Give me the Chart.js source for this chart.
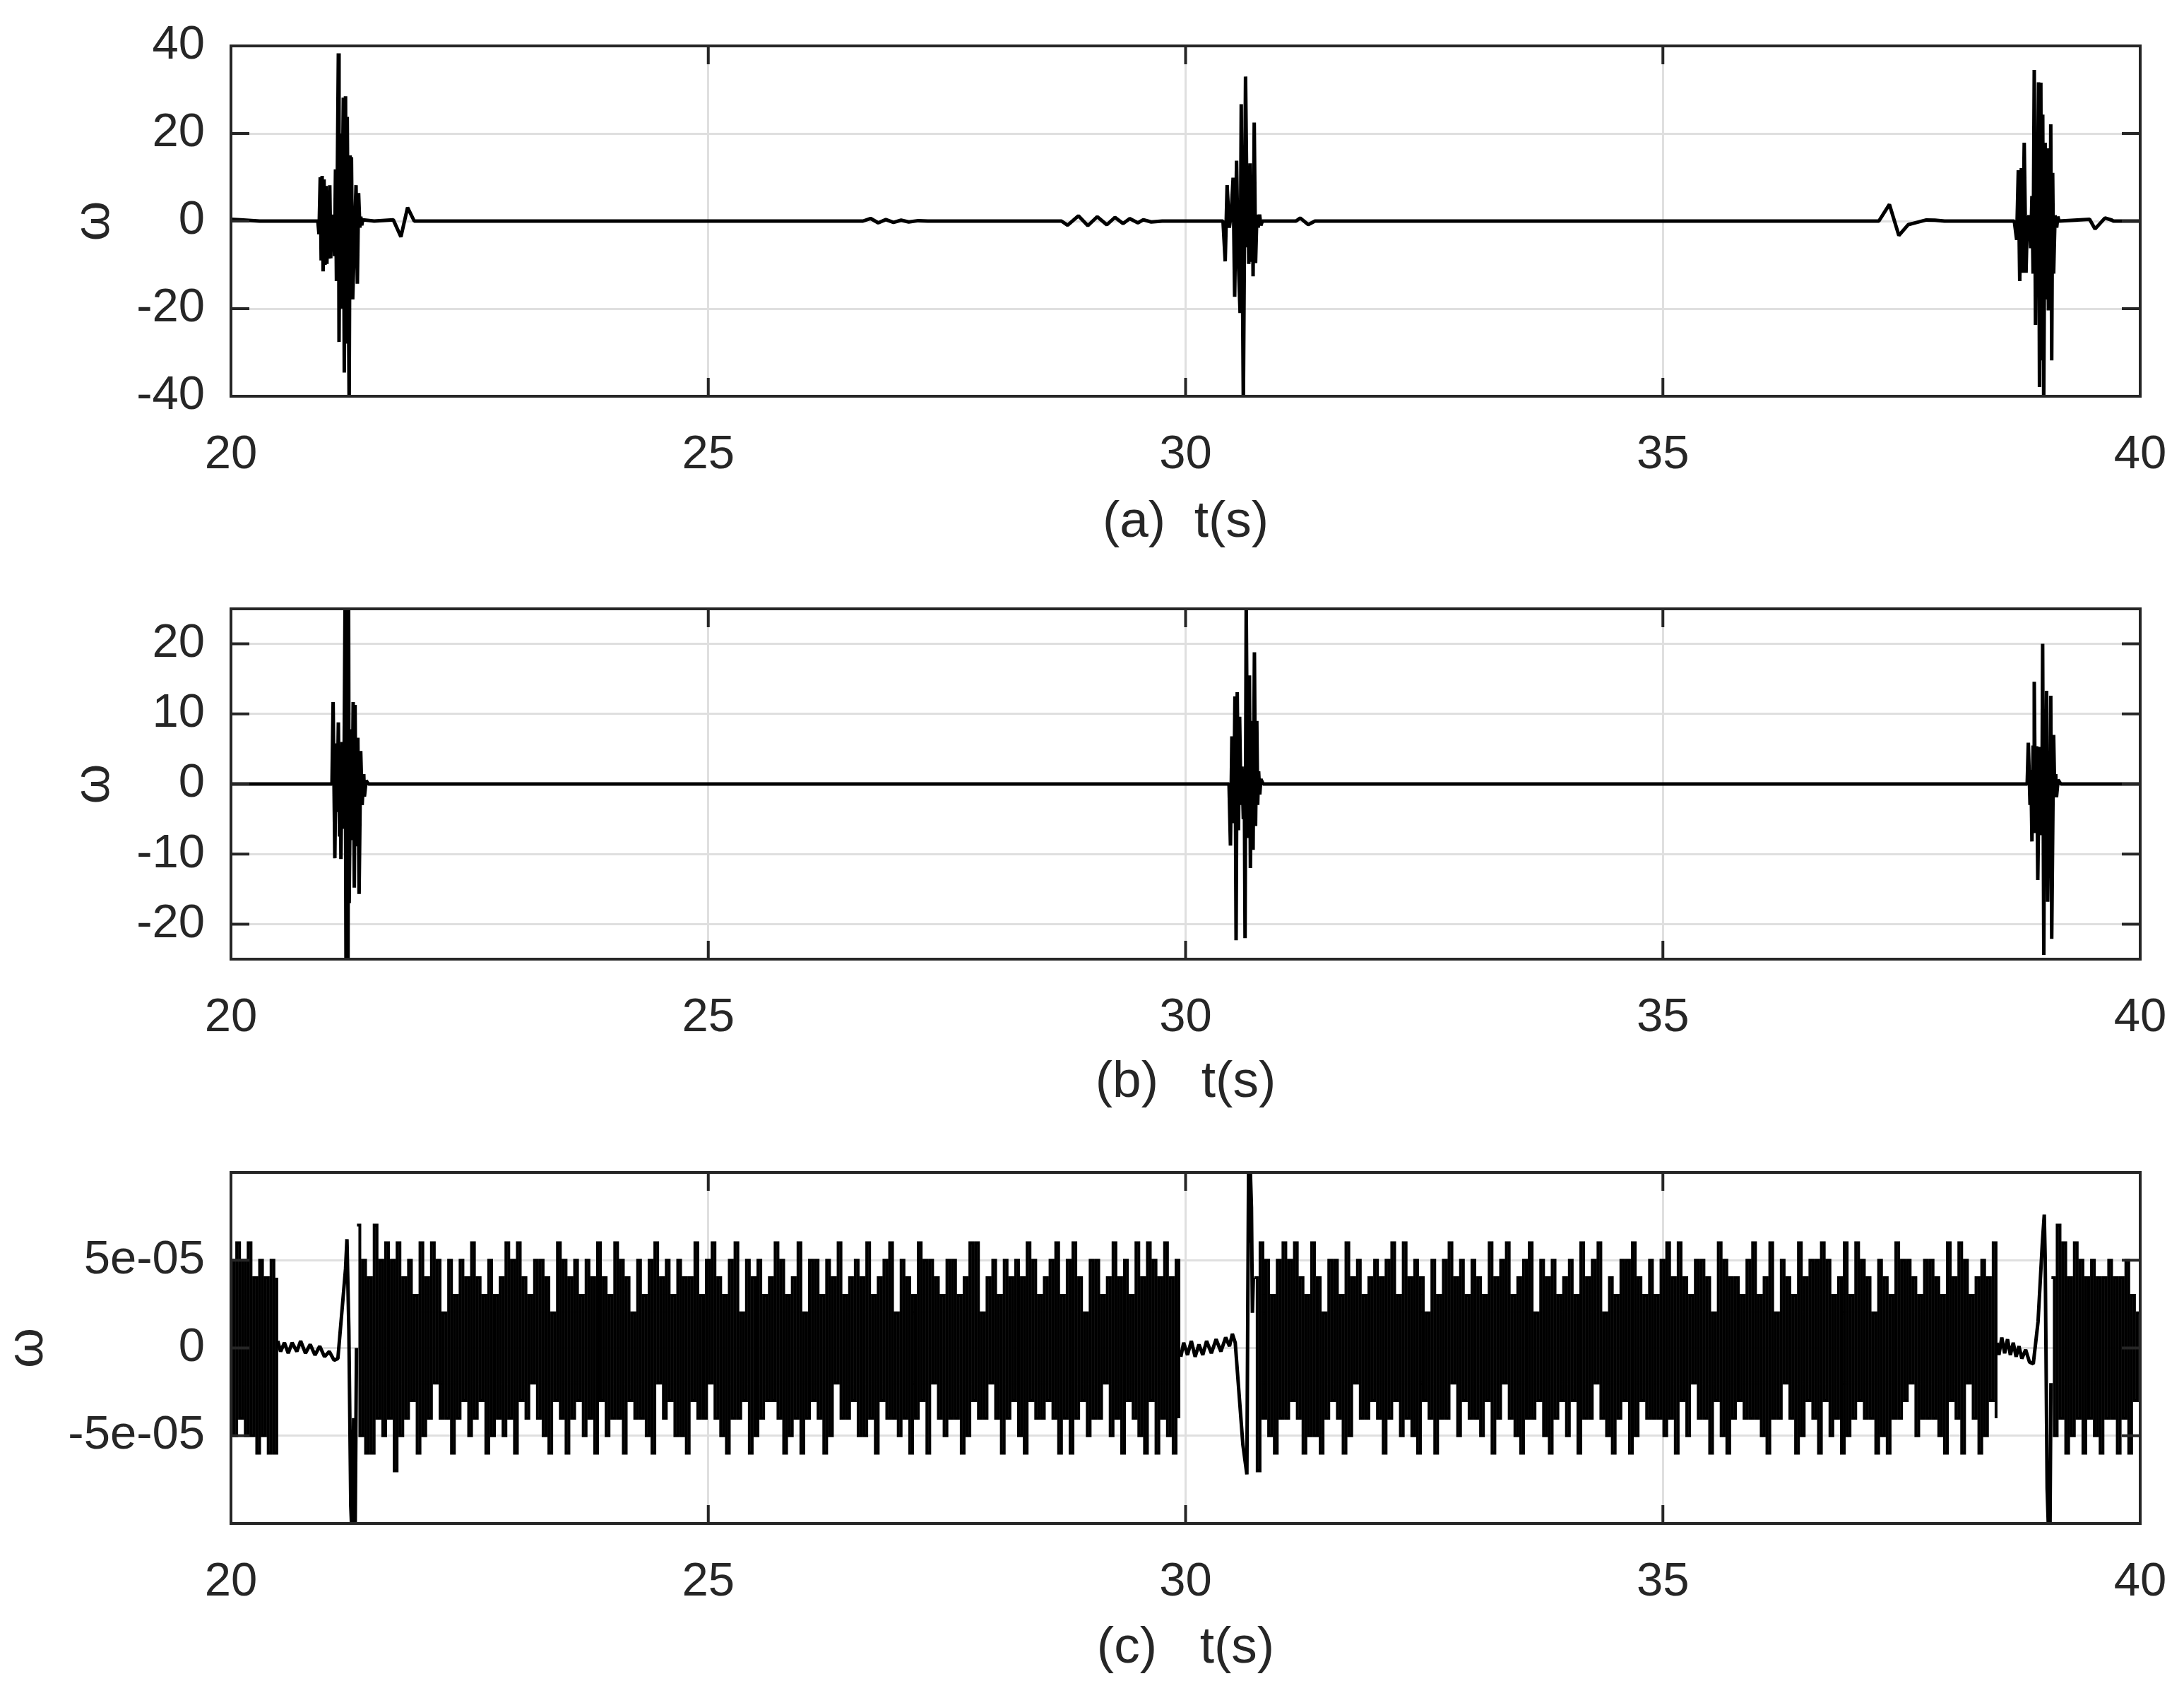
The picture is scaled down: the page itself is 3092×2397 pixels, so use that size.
<!DOCTYPE html>
<html>
<head>
<meta charset="utf-8">
<script src="https://cdn.jsdelivr.net/npm/chart.js@4.4.1/dist/chart.umd.min.js"></script>
<style>
  body { margin: 0; background: #fff; }
  #wrap { position: relative; width: 3092px; height: 2397px; }
  canvas { position: absolute; left: 0; }
</style>
</head>
<body>
<div id="wrap">
  <canvas id="plotA" width="3092" height="800" style="top:0px"></canvas>
  <canvas id="plotB" width="3092" height="800" style="top:800px"></canvas>
  <canvas id="plotC" width="3092" height="797" style="top:1600px"></canvas>
</div>
<script>
// ---- axes ----
const xTicks = [20, 25, 30, 35, 40];
const xLabels = ['20', '25', '30', '35', '40'];
const yTicksA = [-40, -20, 0, 20, 40];
const yLabelsA = ['-40', '-20', '0', '20', '40'];
const yTicksB = [-20, -10, 0, 10, 20];
const yLabelsB = ['-20', '-10', '0', '10', '20'];
const yTicksC = [-5e-5, 0, 5e-5];
const yLabelsC = ['-5e-05', '0', '5e-05'];
const xTitles = ['(a)  t(s)', '(b)   t(s)', '(c)   t(s)'];

// ---- (a) omega ----
const tA = [20.00,20.10,20.30,20.90,
  20.91,20.922,20.935,20.945,20.955,20.965,20.975,20.985,20.996,21.005,
  21.015,21.025,21.035,21.045,21.055,21.065,21.075,21.085,21.095,21.105,
  21.125,21.132,21.145,21.155,21.177,21.187,21.20,21.21,21.218,21.238,
  21.248,21.255,21.262,21.275,21.31,21.324,21.337,21.35,21.36,21.37,
  21.38,21.50,
  21.70,21.78,21.85,21.92,
  26.62,26.70,26.78,26.86,26.94,27.02,27.10,27.20,27.30,
  28.70,28.764,28.877,28.976,29.075,29.175,29.26,29.345,29.415,29.50,29.557,29.64,29.755,
  30.392,30.415,30.435,30.458,30.478,30.498,30.514,30.534,30.548,30.571,
  30.583,30.605,30.628,30.648,30.655,30.662,30.676,30.690,30.70,30.707,
  30.719,30.733,30.747,30.761,30.775,30.789,30.804,
  31.157,31.20,31.285,31.355,
  37.262,37.373,37.472,37.571,37.66,37.76,37.85,37.95,
  38.681,38.706,38.723,38.738,38.755,38.767,38.785,38.804,38.817,38.836,
  38.853,38.866,38.878,38.890,38.903,38.912,38.920,38.935,38.945,38.959,
  38.969,38.979,38.989,39.004,39.014,39.026,39.039,39.054,39.058,39.063,
  39.073,39.083,39.093,39.108,39.125,39.137,39.150,
  39.470,39.527,39.631,39.705,39.72,40.00];
const wA = [0.4,0.3,0,0,
  0,-3,10,-9,10.3,-11.5,9.5,-10,8,-9.8,
  7,-8.6,8.2,-8.5,1.5,-6,1.2,-8,11.8,-13.7,
  38.3,-27.6,20,-20,28.2,-34.6,28.5,-28,23.8,-42,
  15,-17,14.6,-17.9,8.2,-14.3,6.4,-1.5,1.0,-1.0,
  0.3,0,
  0.3,-3.6,3.1,0,
  0,0.6,-0.4,0.35,-0.3,0.2,-0.2,0.1,0,
  0,-0.95,1.2,-1.05,1.0,-0.85,0.85,-0.55,0.55,-0.4,0.3,-0.2,0,
  0,-9.2,8.2,-1.5,1.8,9.9,-17.3,13.8,-6,-21,
  26.7,-42,33,-6,5,-9.8,13.2,-9.3,8,-12.6,
  22.5,-9.6,1.5,-1.5,1.5,-1.0,0,
  0,0.7,-0.8,0,
  0,3.8,-3.3,-0.8,-0.3,0.25,0.2,0,
  0,-4.3,11.6,-13.7,12.1,-11.8,17.9,-11.8,0,1.3,
  -6.2,5.7,-12,34.5,-23.7,6.3,-5,31.7,-37.9,31.6,
  -31.8,24.3,-42,17.9,-17.9,16.6,-20.4,14.9,-8,22.1,
  -31.8,11,-12,1.3,-1.5,1,0,
  0.4,-1.8,0.7,0.2,0,0];

// ---- (b) omega ----
const tB = [20.00,
  21.058,21.070,21.088,21.100,21.112,21.125,21.137,21.145,21.152,21.165,
  21.181,21.195,21.205,21.215,21.226,21.232,21.238,21.255,21.268,21.280,
  21.292,21.300,21.310,21.329,21.342,21.359,21.374,21.391,21.398,21.416,
  21.44,
  30.455,30.470,30.485,30.504,30.517,30.529,30.541,30.554,30.566,30.580,
  30.591,30.605,30.615,30.623,30.635,30.652,30.669,30.679,30.694,30.707,
  30.721,30.733,30.746,30.755,30.765,30.777,30.789,30.813,
  38.816,38.828,38.846,38.855,38.866,38.878,38.884,38.890,38.903,38.915,
  38.927,38.945,38.952,38.960,38.970,38.978,38.990,39.000,39.010,39.019,
  39.031,39.045,39.055,39.063,39.073,39.093,39.105,39.115,39.123,39.14,
  39.168,40.00];
const wB = [0,
  0,11.7,-10.6,5.8,-4,8.8,-7.5,4,-10.7,6,
  -6.4,26,-26,26,-26,26,-17,7.8,-8,11.7,
  -14.8,11.3,-8.9,6.6,-15.7,4.7,-3,1.4,-1.8,0.5,
  0,
  0,-8.8,6.8,-5.6,12.5,-22.3,13.1,-6.6,9.6,-3,
  2.5,-5,1,-22,26,-7.7,15.5,-12,9,-9.4,
  18.8,-6,9,-3,1.8,-1.5,0.7,0,
  0,5.9,-3,2,-8.2,5.5,-2,14.6,-7,5.4,
  -13.7,5.3,-7.3,2,-5,20,-24.4,9,-4,13.3,
  -16.8,4.6,-6,12.6,-22.1,7,-1.5,1.4,-1.9,0.6,
  0,0];

// ---- (c) omega, in units of 1e-5 ----
// quiet stretches and switching transients
const tC = [20.49,20.52,20.56,20.60,20.64,20.69,20.73,20.78,20.83,20.88,20.93,20.98,21.03,21.08,21.12,
  21.20,21.215,21.235,21.255,21.27,21.285,21.30,21.315, 21.316,
  29.95,29.98,30.02,30.06,30.10,30.14,30.18,30.22,30.27,30.32,30.37,30.42,30.46,30.49,30.52,
  30.60,30.642,30.66,30.668,30.676,30.69,30.70,30.71, 30.711,
  38.50,38.52,38.55,38.58,38.61,38.64,38.67,38.70,38.73,38.76,38.80,38.84,38.88,
  38.93,38.975,38.995,39.005,39.025,39.04,39.055,39.065];
const wC = [0.4,-0.2,0.3,-0.3,0.3,-0.2,0.4,-0.3,0.2,-0.4,0.1,-0.5,-0.2,-0.7,-0.6,
  4.5,6.2,1,-9,-11,-4,-11,0, null,
  -0.5,0.3,-0.4,0.4,-0.5,0.2,-0.4,0.4,-0.3,0.5,-0.2,0.6,0.1,0.8,0.3,
  -5.5,-7.2,10.5,6,10.5,8,2,4, null,
  0.3,-0.4,0.6,-0.3,0.5,-0.4,0.3,-0.5,0.1,-0.6,-0.1,-0.8,-0.9,
  1.5,6,7.6,5,-8,-10.5,-10.5,-2];

// quantised chatter, one sample every noiseStep seconds from each start time
const noiseStart = [20.00, 21.32, 30.72, 39.07];
const noiseStep = 0.03;
const noise1 = [5,-5,6,-4,5,-5,6,-5,4,-6,5,-5,4,-6,5,-6,4];
const noise2 = [7,-5,5,-6,4,-6,7,-4,5,-5,6,-4,5,-7,6,-5,
  4,-4,5,-3,3,-6,6,-5,4,-4,6,-2,5,-4,2,-4,5,-6,3,-4,5,-3,4,-5,6,-4,4,-3,3,-6,5,-5,
  3,-4,4,-5,6,-4,5,-6,6,-3,4,-4,3,-2,5,-4,5,-5,4,-6,2,-3,6,-4,5,-6,4,-4,5,-3,3,-5,
  5,-4,4,-6,6,-3,4,-5,3,-4,6,-4,5,-6,4,-3,2,-4,5,-4,3,-5,5,-6,6,-2,4,-4,5,-3,3,-5,
  5,-5,4,-6,4,-3,6,-4,3,-4,5,-2,6,-4,4,-5,3,-6,5,-4,6,-4,2,-3,5,-6,4,-5,5,-4,3,-3,
  4,-3,6,-4,5,-6,3,-5,4,-4,6,-6,2,-4,5,-3,5,-4,3,-6,5,-5,4,-2,6,-4,3,-4,4,-3,5,-5,
  4,-5,6,-4,3,-6,4,-3,5,-4,6,-4,2,-5,5,-4,4,-6,3,-4,6,-3,5,-6,5,-2,4,-4,3,-5,5,-4,
  5,-4,3,-6,4,-5,6,-3,6,-4,2,-4,4,-2,5,-4,3,-6,5,-4,4,-3,5,-5,4,-6,6,-3,5,-4,3,-4,
  4,-3,5,-4,6,-6,3,-4,5,-6,6,-4,4,-3,2,-5,5,-4,5,-4,3,-2,4,-5,6,-4,4,-6,5,-3,3,-4,
  6,-5,4,-6,6,-3,5,-6,4,-4,6,-5,4,-6,5,-4];
const noise3 = [4,-7,6,-4,5,-5,3,-6,5,-4,6,-4,
  5,-3,6,-4,4,-6,3,-5,6,-5,4,-6,2,-4,5,-3,5,-4,3,-6,6,-5,4,-2,5,-4,3,-4,4,-3,5,-4,
  4,-6,5,-4,6,-3,3,-5,6,-4,4,-5,5,-6,4,-3,2,-4,5,-6,3,-4,5,-4,6,-2,4,-5,5,-3,3,-4,
  5,-4,4,-5,3,-3,6,-6,4,-4,5,-2,6,-4,3,-5,4,-6,5,-4,6,-4,2,-3,5,-5,4,-6,5,-4,3,-3,
  4,-5,5,-3,3,-6,6,-4,4,-4,5,-2,6,-4,2,-5,4,-6,3,-4,5,-3,5,-6,6,-5,4,-3,3,-4,5,-4,
  3,-4,5,-5,6,-4,4,-6,6,-3,4,-5,3,-2,5,-4,5,-4,4,-6,2,-3,6,-5,5,-6,4,-4,4,-3,3,-4,
  5,-4,6,-4,3,-5,4,-6,6,-4,2,-4,5,-2,4,-4,3,-6,6,-5,4,-3,5,-4,5,-6,6,-3,5,-5,3,-4,
  4,-6,6,-5,3,-4,6,-3,5,-4,4,-4,2,-6,5,-5,4,-6,3,-4,6,-4,5,-3,5,-2,4,-5,3,-4,5,-4,
  5,-4,4,-5,3,-6,6,-3,4,-4,6,-6,5,-2,3,-4,4,-6,5,-5,4,-3,6,-4];
const noise4 = [4,-5,7,-4,6,-6,4,-5,6,-4,5,-6,4,-4,5,-5,4,-6,4,-4,5,-4,4,-6,4,-4,5,-6,3,-3,2,-2];

// ---- drawing ----
const INK = '#262626';
const GRID = '#dfdfdf';
const FONT = 'Liberation Sans';

function series(times, values, unit) {
  return times.map((t, i) => ({ x: t, y: values[i] === null ? null : values[i] * unit }));
}

function noiseSeries(starts, step, segments, unit) {
  const pts = [];
  segments.forEach((seg, s) => {
    seg.forEach((v, i) => pts.push({ x: starts[s] + i * step, y: v * unit }));
    pts.push({ x: starts[s] + seg.length * step, y: null });
  });
  return pts;
}

// box round the plot area with inward tick marks
const frame = {
  id: 'frame',
  afterDraw(chart) {
    const { ctx, chartArea: a } = chart;
    const xs = chart.scales.x, ys = chart.scales.y;
    const len = 26;
    ctx.save();
    ctx.strokeStyle = INK;
    ctx.lineWidth = 4;
    ctx.beginPath();
    xs.ticks.forEach(t => {
      const px = xs.getPixelForValue(t.value);
      ctx.moveTo(px, a.bottom); ctx.lineTo(px, a.bottom - len);
      ctx.moveTo(px, a.top); ctx.lineTo(px, a.top + len);
    });
    ys.ticks.forEach(t => {
      const py = ys.getPixelForValue(t.value);
      ctx.moveTo(a.left, py); ctx.lineTo(a.left + len, py);
      ctx.moveTo(a.right, py); ctx.lineTo(a.right - len, py);
    });
    ctx.stroke();
    ctx.strokeRect(a.left, a.top, a.right - a.left, a.bottom - a.top);
    ctx.restore();
  }
};

function makePlot(id, box, yRange, yTicks, yLabels, xTitle, datasets) {
  return new Chart(document.getElementById(id), {
    type: 'line',
    data: { datasets: datasets },
    plugins: [frame],
    options: {
      responsive: false,
      animation: false,
      devicePixelRatio: 1,
      events: [],
      layout: { autoPadding: false, padding: { left: box.padLeft, right: 62, top: box.top, bottom: 0 } },
      plugins: { legend: { display: false }, tooltip: { enabled: false } },
      scales: {
        x: {
          type: 'linear', min: 20, max: 40,
          afterBuildTicks: s => { s.ticks = xTicks.map(v => ({ value: v })); },
          afterFit: s => { s.height = box.xHeight; },
          grid: { color: GRID, lineWidth: 3, drawTicks: false },
          border: { display: false },
          ticks: {
            // tall line box pushes the labels down without widening the side padding
            color: INK, font: { family: FONT, size: 67, lineHeight: 2.48 }, padding: 0,
            maxRotation: 0, autoSkip: false,
            callback: (v, i) => xLabels[i]
          },
          title: {
            display: true, text: xTitle, color: INK,
            font: { family: FONT, size: 73, lineHeight: 1 },
            padding: { top: 0, bottom: box.titlePad }
          }
        },
        y: {
          type: 'linear', min: yRange[0], max: yRange[1],
          afterBuildTicks: s => { s.ticks = yTicks.map(v => ({ value: v })); },
          afterFit: s => { s.width = box.yWidth; },
          grid: { color: GRID, lineWidth: 3, drawTicks: false },
          border: { display: false },
          ticks: {
            color: INK, font: { family: FONT, size: 67, lineHeight: 0.6 }, padding: 37,
            autoSkip: false,
            callback: (v, i) => yLabels[i]
          },
          title: {
            display: true, text: 'ω', color: INK,
            font: { family: FONT, size: 73, lineHeight: 1 },
            padding: 0
          }
        }
      }
    }
  });
}

function smoothLine(data) {
  return { data: data, borderColor: '#000', borderWidth: 5, pointRadius: 0,
    tension: 0, borderJoinStyle: 'bevel', spanGaps: false };
}

makePlot('plotA', { top: 65, padLeft: 97, yWidth: 230, xHeight: 239, titlePad: 24 },
  [-40, 40], yTicksA, yLabelsA, xTitles[0],
  [smoothLine(series(tA, wA, 1))]);

makePlot('plotB', { top: 62, padLeft: 97, yWidth: 230, xHeight: 242, titlePad: 31 },
  [-25, 25], yTicksB, yLabelsB, xTitles[1],
  [smoothLine(series(tB, wB, 1))]);

makePlot('plotC', { top: 60, padLeft: 3, yWidth: 324, xHeight: 240, titlePad: 27 },
  [-1e-4, 1e-4], yTicksC, yLabelsC, xTitles[2],
  [
    { data: noiseSeries(noiseStart, noiseStep, [noise1, noise2, noise3, noise4], 1e-5),
      borderColor: '#000', borderWidth: 4, pointRadius: 0, stepped: true,
      borderJoinStyle: 'miter', spanGaps: false },
    smoothLine(series(tC, wC, 1e-5))
  ]);
</script>
</body>
</html>
